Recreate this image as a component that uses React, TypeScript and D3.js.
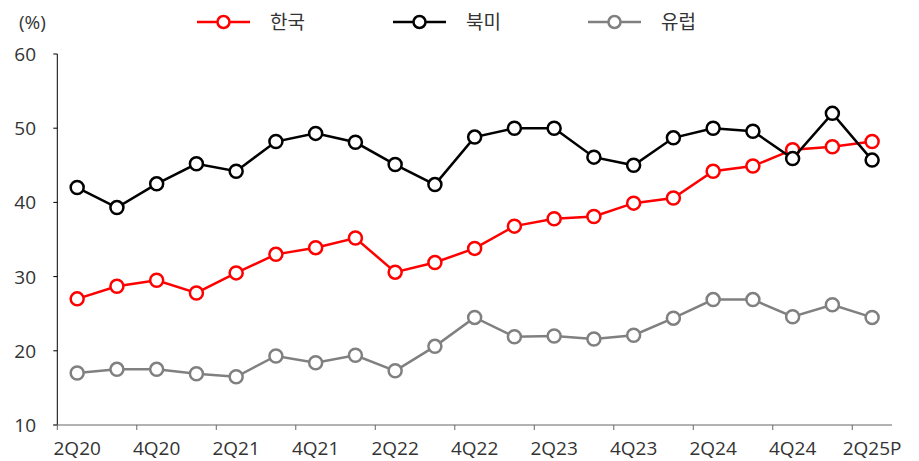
import React from "react";
import * as d3 from "d3";

const categories = ["2Q20","3Q20","4Q20","1Q21","2Q21","3Q21","4Q21","1Q22","2Q22","3Q22","4Q22","1Q23","2Q23","3Q23","4Q23","1Q24","2Q24","3Q24","4Q24","1Q25","2Q25P"];
const korea = [27.0,28.7,29.5,27.8,30.5,33.0,33.9,35.2,30.6,31.9,33.8,36.8,37.8,38.1,39.9,40.6,44.2,44.9,47.1,47.5,48.2];
const northAmerica = [42.0,39.3,42.5,45.2,44.2,48.2,49.3,48.1,45.1,42.4,48.8,50.0,50.0,46.1,45.0,48.7,50.0,49.6,45.9,52.0,45.7];
const europe = [17.0,17.5,17.5,16.9,16.5,19.3,18.4,19.4,17.3,20.6,24.5,21.9,22.0,21.6,22.1,24.4,26.9,26.9,24.6,26.2,24.5];
const yTicks = [10,20,30,40,50,60];
const seriesNames = ["한국","북미","유럽"];
const seriesColors = ["#ff0000","#000000","#808080"];

const W = 919, H = 461;
const left = 57.3, right = 892, top = 54, bottom = 425;
const font = "'Open Sans', 'Noto Sans CJK KR', sans-serif";

export default function App() {
  const x = d3.scaleBand<string>().domain(categories).range([left, right]).padding(0);
  const y = d3.scaleLinear().domain([10, 60]).range([bottom, top]);
  const cx = (c: string) => (x(c) as number) + x.bandwidth() / 2;
  const line = d3.line<number>().x((_, i) => cx(categories[i])).y((v) => y(v));
  const series = [korea, northAmerica, europe];
  const legendX = [197, 393, 588];
  const drawOrder = [2, 0, 1];
  return (
    <svg width={W} height={H} style={{ position: "absolute", left: 0, top: 0 }} fontFamily={font}>
      <rect width={W} height={H} fill="#fff" />
      <text x={19} y={29} fontSize={19} fill="#333">(%)</text>
      {seriesNames.map((n, i) => (
        <g key={n}>
          <line x1={legendX[i]} x2={legendX[i] + 53} y1={22} y2={22} stroke={seriesColors[i]} strokeWidth={2.5} />
          <circle cx={legendX[i] + 26.5} cy={22} r={6} fill="#fff" stroke={seriesColors[i]} strokeWidth={2.5} />
          <text x={legendX[i] + 73} y={29} fontSize={19} fill="#333" fontFamily="'Noto Sans CJK KR', sans-serif">{n}</text>
        </g>
      ))}
      {/* y axis */}
      <line x1={left} x2={left} y1={top} y2={bottom} stroke="#000" strokeWidth={1} />
      {yTicks.map((t) => (
        <g key={t}>
          <line x1={left - 4} x2={left} y1={y(t)} y2={y(t)} stroke="#000" />
          <text x={36} y={y(t) + 7} fontSize={19} textAnchor="end" fill="#333">{t}</text>
        </g>
      ))}
      {/* x axis */}
      <line x1={left - 4} x2={right} y1={bottom} y2={bottom} stroke="#666" strokeWidth={1.2} />
      {categories.map((c, i) => i % 2 === 0 ? (
        <g key={c}>
          <line x1={x(c) as number} x2={x(c) as number} y1={bottom} y2={bottom + 5} stroke="#666" />
          <text x={cx(c)} y={bottom + 30} fontSize={19} textAnchor="middle" fill="#333">{c}</text>
        </g>
      ) : null)}
      {drawOrder.map((si) => (
        <g key={si}>
          <path d={line(series[si]) || ""} fill="none" stroke={seriesColors[si]} strokeWidth={2.5} />
          {series[si].map((v, i) => (
            <circle key={i} cx={cx(categories[i])} cy={y(v)} r={6.5} fill="#fff" stroke={seriesColors[si]} strokeWidth={2.5} />
          ))}
        </g>
      ))}
    </svg>
  );
}
